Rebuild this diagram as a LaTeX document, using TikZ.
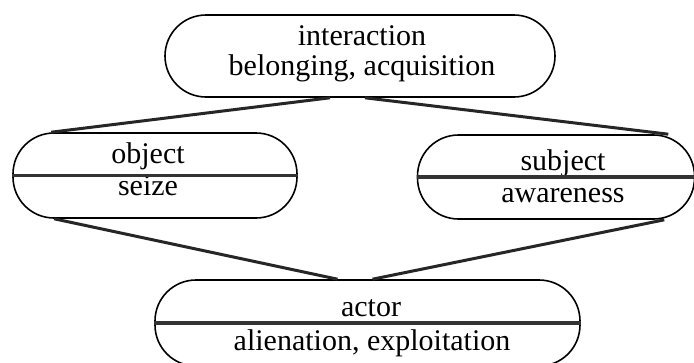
\documentclass[tikz,border=0pt]{standalone}
\usepackage{fontspec}
\setmainfont{Liberation Serif}

\begin{document}
\begin{tikzpicture}[x=1pt,y=-1pt,
  pill/.style={draw,line width=1.6pt,rounded corners=41pt,inner sep=0pt},
  word/.style={font=\fontsize{30}{30}\selectfont,inner sep=0pt,anchor=base},
  bar/.style={line width=3.5pt,draw=black!80},
  link/.style={line width=3pt,draw=black!85}]
  \useasboundingbox (0,0) rectangle (694,362);
  \path (360,56) node[pill,minimum width=390pt,minimum height=82pt] (inter) {}
  (155,175.5) node[pill,minimum width=284pt,minimum height=85pt] (obj) {}
  (556,177) node[pill,minimum width=277pt,minimum height=84pt] (subj) {}
  (367.5,323) node[pill,minimum width=425pt,minimum height=86pt] (act) {};
  \path (362,45) node[word] (interA) {interaction}
  (362,75) node[word] (interB) {belonging, acquisition}
  (148,163) node[word] (objA) {object} (148,195) node[word] (objB) {seize}
  (563,170) node[word] (subjA) {subject} (563,202) node[word] (subjB) {awareness}
  (371,316) node[word] (actA) {actor} (372,350) node[word] (actB) {alienation, exploitation};
  \draw[bar] (obj.west) -- (obj.east);
  \draw[bar] (subj.west) -- (subj.east);
  \draw[bar] (act.west) -- (act.east);
  \draw[link] ([xshift=-30pt]inter.south) -- ([xshift=39pt]obj.north west);
  \draw[link] ([xshift=5pt]inter.south) -- ([xshift=-27pt]subj.north east);
  \draw[link] ([xshift=42pt]obj.south west) -- ([xshift=-30pt]act.north);
  \draw[link] ([xshift=-31pt]subj.south east) -- ([xshift=5pt]act.north);
\end{tikzpicture}
\end{document}
